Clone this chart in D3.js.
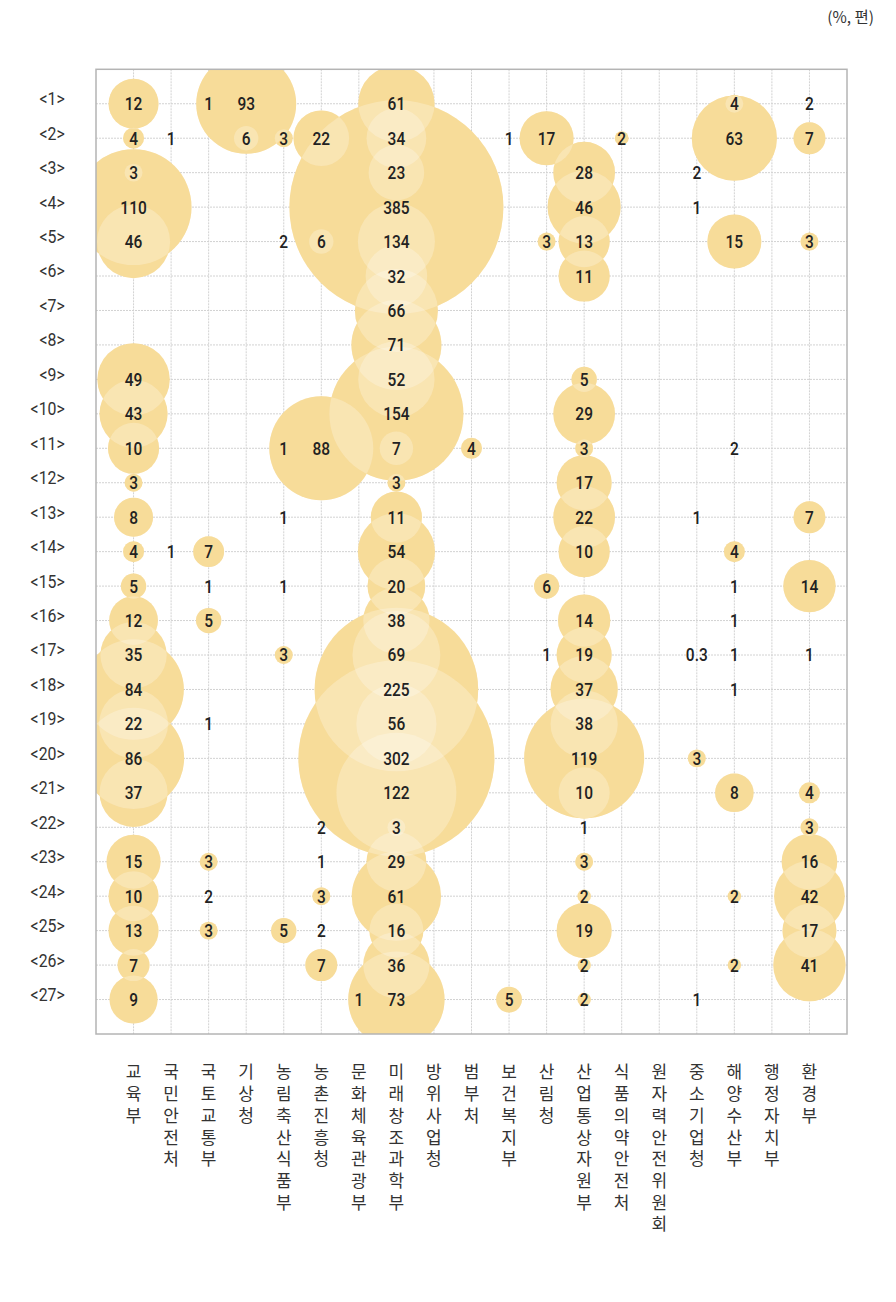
<!DOCTYPE html>
<html>
<head>
<meta charset="utf-8">
<script src="https://cdn.jsdelivr.net/npm/d3@7"></script>
<style>
  html, body { margin: 0; padding: 0; background: #fff; }
  svg { display: block; }
  .colLabel { writing-mode: vertical-rl; text-orientation: upright; }
</style>
</head>
<body>
<svg id="chart" width="896" height="1302"></svg>
<script>
const _ = null;

const ministries = ["교육부","국민안전처","국토교통부","기상청","농림축산식품부","농촌진흥청","문화체육관광부","미래창조과학부","방위사업청","범부처","보건복지부","산림청","산업통상자원부","식품의약안전처","원자력안전위원회","중소기업청","해양수산부","행정자치부","환경부"];

const topics = d3.range(1, 28).map(i => `<${i}>`);

const unitLabel = "(%, 편)";

// Counts (편) shown as labels, one array per topic, one entry per ministry
const counts = [
  [12,_,1,93,_,_,_,61,_,_,_,_,_,_,_,_,4,_,2],
  [4,1,_,6,3,22,_,34,_,_,1,17,_,2,_,_,63,_,7],
  [3,_,_,_,_,_,_,23,_,_,_,_,28,_,_,2,_,_,_],
  [110,_,_,_,_,_,_,385,_,_,_,_,46,_,_,1,_,_,_],
  [46,_,_,_,2,6,_,134,_,_,_,3,13,_,_,_,15,_,3],
  [_,_,_,_,_,_,_,32,_,_,_,_,11,_,_,_,_,_,_],
  [_,_,_,_,_,_,_,66,_,_,_,_,_,_,_,_,_,_,_],
  [_,_,_,_,_,_,_,71,_,_,_,_,_,_,_,_,_,_,_],
  [49,_,_,_,_,_,_,52,_,_,_,_,5,_,_,_,_,_,_],
  [43,_,_,_,_,_,_,154,_,_,_,_,29,_,_,_,_,_,_],
  [10,_,_,_,1,88,_,7,_,4,_,_,3,_,_,_,2,_,_],
  [3,_,_,_,_,_,_,3,_,_,_,_,17,_,_,_,_,_,_],
  [8,_,_,_,1,_,_,11,_,_,_,_,22,_,_,1,_,_,7],
  [4,1,7,_,_,_,_,54,_,_,_,_,10,_,_,_,4,_,_],
  [5,_,1,_,1,_,_,20,_,_,_,6,_,_,_,_,1,_,14],
  [12,_,5,_,_,_,_,38,_,_,_,_,14,_,_,_,1,_,_],
  [35,_,_,_,3,_,_,69,_,_,_,1,19,_,_,0.3,1,_,1],
  [84,_,_,_,_,_,_,225,_,_,_,_,37,_,_,_,1,_,_],
  [22,_,1,_,_,_,_,56,_,_,_,_,38,_,_,_,_,_,_],
  [86,_,_,_,_,_,_,302,_,_,_,_,119,_,_,3,_,_,_],
  [37,_,_,_,_,_,_,122,_,_,_,_,10,_,_,_,8,_,4],
  [_,_,_,_,_,2,_,3,_,_,_,_,1,_,_,_,_,_,3],
  [15,_,3,_,_,1,_,29,_,_,_,_,3,_,_,_,_,_,16],
  [10,_,2,_,_,3,_,61,_,_,_,_,2,_,_,_,2,_,42],
  [13,_,3,_,5,2,_,16,_,_,_,_,19,_,_,_,_,_,17],
  [7,_,_,_,_,7,_,36,_,_,_,_,2,_,_,_,2,_,41],
  [9,_,_,_,_,_,1,73,_,_,5,_,2,_,_,1,_,_,_]
];

// Bubble size values (%-based share)
const shares = [
  [21,_,0,84,_,_,_,49,_,_,_,_,_,_,_,_,2.7,_,0],
  [3.7,0,_,5,2.7,26,_,30,_,_,0,24.5,_,1.6,_,_,61,_,8.6],
  [2.7,_,_,_,_,_,_,26,_,_,_,_,32,_,_,0,_,_,_],
  [113,_,_,_,_,_,_,385,_,_,_,_,45,_,_,0,_,_,_],
  [45,_,_,_,0,5,_,50,_,_,_,2.7,22,_,_,_,24.5,_,2.7],
  [_,_,_,_,_,_,_,32,_,_,_,_,22,_,_,_,_,_,_],
  [_,_,_,_,_,_,_,58,_,_,_,_,_,_,_,_,_,_,_],
  [_,_,_,_,_,_,_,68,_,_,_,_,_,_,_,_,_,_,_],
  [44,_,_,_,_,_,_,49,_,_,_,_,5.4,_,_,_,_,_,_],
  [39,_,_,_,_,_,_,151,_,_,_,_,32,_,_,_,_,_,_],
  [22,_,_,_,0,91,_,9.4,_,3.7,_,_,2.7,_,_,_,0,_,_],
  [2.7,_,_,_,_,_,_,2.7,_,_,_,_,25.5,_,_,_,_,_,_],
  [12.8,_,_,_,0,_,_,22,_,_,_,_,32,_,_,0,_,_,8.6],
  [3.7,0,8,_,_,_,_,50,_,_,_,_,22,_,_,_,3.7,_,_],
  [5.4,_,0,_,0,_,_,28,_,_,_,5.3,_,_,_,_,0,_,23],
  [20,_,5.4,_,_,_,_,37,_,_,_,_,23,_,_,_,0,_,_],
  [37,_,_,_,2.7,_,_,65,_,_,_,0,25.5,_,_,0,0,_,0],
  [85,_,_,_,_,_,_,225,_,_,_,_,38,_,_,_,0,_,_],
  [40,_,0,_,_,_,_,54,_,_,_,_,38,_,_,_,_,_,_],
  [86,_,_,_,_,_,_,323,_,_,_,_,121,_,_,2.7,_,_,_],
  [39,_,_,_,_,_,_,121,_,_,_,_,22,_,_,_,12.5,_,3.7],
  [_,_,_,_,_,0,_,2.7,_,_,_,_,0,_,_,_,_,_,2.7],
  [24.5,_,2.7,_,_,0,_,30,_,_,_,_,2.7,_,_,_,_,_,26],
  [21,_,0,_,_,2.7,_,67,_,_,_,_,1.5,_,_,_,1.5,_,42],
  [21,_,2.7,_,5.4,0,_,24.5,_,_,_,_,25.5,_,_,_,_,_,24.5],
  [8.6,_,_,_,_,8.6,_,37,_,_,_,_,1.5,_,_,_,1.5,_,44],
  [19.4,_,_,_,_,_,0,78,_,_,5.6,_,1.5,_,_,0,_,_,_]
];

// ---------- build cells ----------
const cells = [];
counts.forEach((row, ri) => {
  row.forEach((v, ci) => {
    if (v === null) return;
    cells.push({ topic: topics[ri], ministry: ministries[ci], count: v, share: shares[ri][ci] || 0 });
  });
});

// ---------- layout ----------
const svg = d3.select("#chart");
const plot = { left: 96, right: 847, top: 69.3, bottom: 1034 };

const x = d3.scalePoint().domain(ministries).range([plot.left, plot.right]).padding(1);
const y = d3.scalePoint().domain(topics).range([plot.top, plot.bottom]).padding(1);
const r = d3.scaleSqrt().domain([0, 385]).range([0, 107]);

// clip
svg.append("defs").append("clipPath").attr("id", "plotClip")
  .append("rect")
  .attr("x", plot.left).attr("y", plot.top)
  .attr("width", plot.right - plot.left).attr("height", plot.bottom - plot.top);

// grid
const grid = svg.append("g").attr("class", "grid");
grid.selectAll("line.v").data(ministries).join("line")
  .attr("x1", d => x(d)).attr("x2", d => x(d))
  .attr("y1", plot.top).attr("y2", plot.bottom)
  .attr("stroke", "#d2d2d2").attr("stroke-width", 1).attr("stroke-dasharray", "2,1");
grid.selectAll("line.h").data(topics).join("line")
  .attr("y1", d => y(d)).attr("y2", d => y(d))
  .attr("x1", plot.left).attr("x2", plot.right)
  .attr("stroke", "#d2d2d2").attr("stroke-width", 1).attr("stroke-dasharray", "2,1");

// bubbles: solid base, then translucent white veil per bubble (overlaps get lighter)
const bub = svg.append("g").attr("clip-path", "url(#plotClip)");
const withBubble = cells.filter(d => d.share > 0);
bub.append("g").selectAll("circle").data(withBubble).join("circle")
  .attr("cx", d => x(d.ministry)).attr("cy", d => y(d.topic))
  .attr("r", d => r(d.share))
  .attr("fill", "#F5D077");
bub.append("g").selectAll("circle").data(withBubble).join("circle")
  .attr("cx", d => x(d.ministry)).attr("cy", d => y(d.topic))
  .attr("r", d => r(d.share))
  .attr("fill", "#ffffff").attr("fill-opacity", 0.25);

// frame
svg.append("rect")
  .attr("x", plot.left).attr("y", plot.top)
  .attr("width", plot.right - plot.left).attr("height", plot.bottom - plot.top)
  .attr("fill", "none").attr("stroke", "#b4b4b4").attr("stroke-width", 1.5);

const numFont = "'Roboto', sans-serif";

// value labels (condensed look)
svg.append("g").selectAll("text").data(cells).join("text")
  .attr("transform", d => `translate(${x(d.ministry)},${y(d.topic)}) scale(0.86,1)`)
  .attr("dy", "0.36em")
  .attr("text-anchor", "middle")
  .attr("font-family", numFont)
  .attr("font-size", 18)
  .attr("font-weight", 500)
  .attr("fill", "#222")
  .text(d => d.count);

// row labels via axis
const yAxis = svg.append("g")
  .attr("transform", `translate(${plot.left},0)`)
  .call(d3.axisLeft(y).tickSize(0).tickPadding(26));
yAxis.select(".domain").remove();
yAxis.selectAll("text")
  .attr("font-family", numFont)
  .attr("font-size", 18)
  .attr("fill", "#333")
  .attr("dy", "0.05em")
  .attr("transform", "translate(-70,0) scale(0.88,1) translate(70,0)");

// column labels: vertical text, one element per ministry
svg.append("g").selectAll("text").data(ministries).join("text")
  .attr("class", "colLabel")
  .attr("x", d => x(d))
  .attr("y", 1063.5)
  .attr("font-family", "'Noto Sans CJK KR', sans-serif")
  .attr("font-size", 17)
  .attr("letter-spacing", 4.7)
  .attr("fill", "#333")
  .text(d => d);

// unit label
svg.append("text")
  .attr("x", 874).attr("y", 23)
  .attr("text-anchor", "end")
  .attr("font-family", "'Noto Sans CJK KR', sans-serif")
  .attr("font-size", 15.5)
  .attr("fill", "#333")
  .text(unitLabel);
</script>
</body>
</html>
